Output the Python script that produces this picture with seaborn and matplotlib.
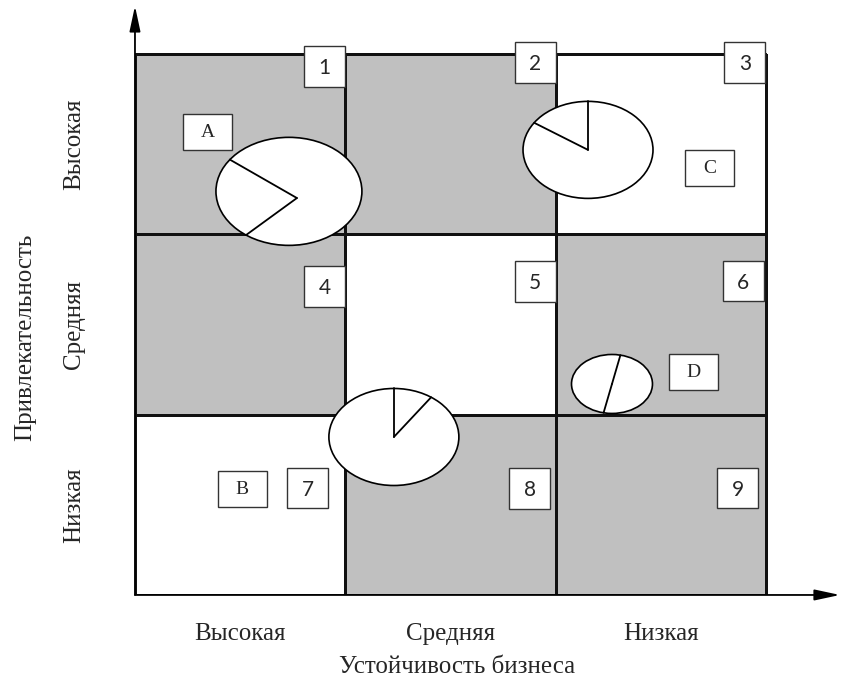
import numpy as np
import pandas as pd
import matplotlib
matplotlib.use('Agg')
import matplotlib.pyplot as plt
from matplotlib.colors import ListedColormap
from matplotlib.patches import Ellipse, Rectangle
import seaborn as sns

# levels (rows: attractiveness, top to bottom; columns: business strength)
levels = ['Высокая', 'Средняя', 'Низкая']
# 1 = shaded cell, 0 = white cell
shade = [[1, 1, 0],
         [1, 0, 1],
         [0, 1, 1]]

# numbered cell tags: number, x, y (grid units, y counted from top)
cell_num = ['1', '2', '3', '4', '5', '6', '7', '8', '9']
cell_x = [0.901, 1.902, 2.900, 0.903, 1.902, 2.891, 0.820, 1.878, 2.867]
cell_y = [0.069, 0.047, 0.047, 1.290, 1.262, 1.259, 2.407, 2.410, 2.407]

# business units: label box position and pie (ellipse) position/size
unit = ['A', 'B', 'C', 'D']
unit_x = [0.347, 0.511, 2.731, 2.655]
unit_y = [0.433, 2.410, 0.632, 1.764]
pie_x = [0.732, 1.231, 2.154, 2.268]
pie_y = [0.762, 2.124, 0.532, 1.830]
pie_w = [0.694, 0.618, 0.618, 0.385]
pie_h = [0.599, 0.538, 0.538, 0.327]
pie_hub_x = [0.770, 1.231, 2.154, 2.268]
pie_hub_y = [0.799, 2.124, 0.532, 1.830]
pie_angles = [[144, 234], [90, 55], [90, 146], [78, 258]]

xmax, ytop = 3.352, -0.266

sns.set_style('white')
plt.rcParams['font.family'] = ['Liberation Serif', 'DejaVu Serif']

fig = plt.figure(figsize=(8.42, 6.86), dpi=100)
ax = fig.add_axes([0.1603, 0.1327, 0.8373, 0.8586])

df = pd.DataFrame(shade, index=levels, columns=levels)
sns.heatmap(df, cmap=ListedColormap(['white', '#c0c0c0']), cbar=False,
            linewidths=0.8, linecolor='#111111', ax=ax)
ax.set_xlim(0, xmax)
ax.set_ylim(3, ytop)
for s in ax.spines.values():
    s.set_visible(False)

# axes with arrows
arrow = dict(arrowstyle='-|>,head_length=1.4,head_width=0.3',
             color='black', lw=1.3, mutation_scale=11, shrinkA=0, shrinkB=0)
ax.annotate('', xy=(xmax, 3), xytext=(0, 3), annotation_clip=False,
            arrowprops=arrow)
ax.annotate('', xy=(0, ytop), xytext=(0, 3), annotation_clip=False,
            arrowprops=arrow)

# pies
for cx, cy, w, h, hx, hy, angs in zip(pie_x, pie_y, pie_w, pie_h,
                                      pie_hub_x, pie_hub_y, pie_angles):
    ax.add_patch(Ellipse((cx, cy), w, h, facecolor='white',
                         edgecolor='black', lw=1.2, zorder=4))
    for a in angs:
        t = np.deg2rad(a)
        ax.plot([hx, cx + w / 2 * np.cos(t)], [hy, cy - h / 2 * np.sin(t)],
                color='black', lw=1.3, zorder=5)

# numbered tags
bw, bh = 0.195, 0.227
for n, x, y in zip(cell_num, cell_x, cell_y):
    ax.add_patch(Rectangle((x - bw / 2, y - bh / 2), bw, bh, facecolor='white',
                           edgecolor='#333333', lw=1.0, zorder=6))
    ax.text(x, y + 0.01, n, ha='center', va='center', fontsize=15,
            family=['Lato', 'DejaVu Sans'], zorder=7)

# unit labels
lw_, lh_ = 0.233, 0.200
for u, x, y in zip(unit, unit_x, unit_y):
    ax.add_patch(Rectangle((x - lw_ / 2, y - lh_ / 2), lw_, lh_, facecolor='white',
                           edgecolor='#333333', lw=1.0, zorder=6))
    ax.text(x, y + 0.005, u, ha='center', va='center', fontsize=14, zorder=7)

ax.set_xticks([0.5, 1.5, 2.5])
ax.set_xticklabels(levels, fontsize=18)
ax.set_yticks([0.5, 1.5, 2.5])
ax.set_yticklabels(levels, fontsize=18, rotation=90, va='center')
ax.tick_params(axis='x', length=0, pad=20)
ax.tick_params(axis='y', length=0, pad=36)

ax.set_xlabel('Устойчивость бизнеса', fontsize=18, va='center')
ax.xaxis.set_label_coords(0.457, -0.122)
ax.set_ylabel('Привлекательность', fontsize=18, va='center')
ax.yaxis.set_label_coords(-0.156, 0.438)

fig.savefig('out.png', dpi=100, facecolor='white')
